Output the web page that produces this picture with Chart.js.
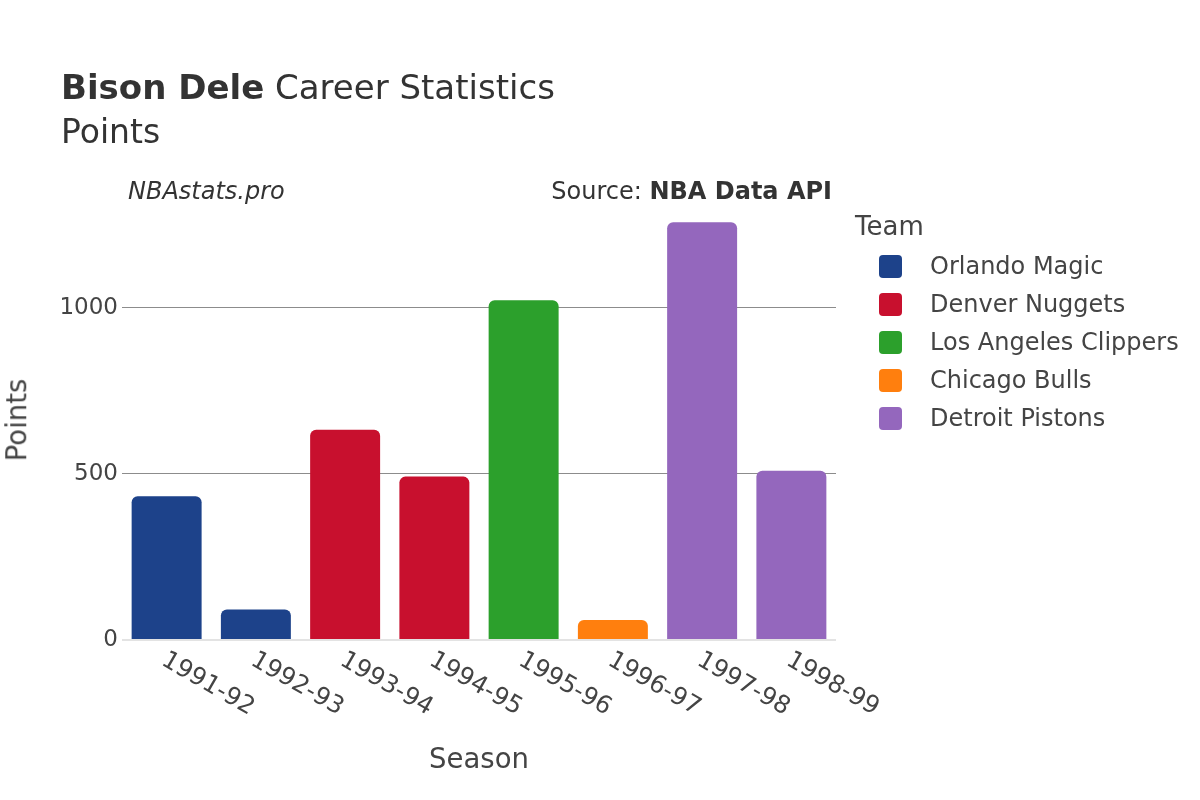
<!DOCTYPE html>
<html>
<head>
<meta charset="utf-8">
<script src="https://cdn.jsdelivr.net/npm/chart.js@4.4.1/dist/chart.umd.min.js"></script>
<style>
  html, body { margin: 0; padding: 0; background: #fff; }
  body { width: 1200px; height: 800px; position: relative; overflow: hidden; font-family: "DejaVu Sans", sans-serif; color: #444; }
  #wrap { position: absolute; left: 0; top: 0; width: 1200px; height: 800px; }
  .t { position: absolute; white-space: nowrap; }
  #title { left: 61px; top: 70px; font-size: 34px; line-height: 34px; color: #333; }
  #subtitle { left: 61px; top: 115px; font-size: 33px; line-height: 33px; color: #333; }
  #credit { left: 128px; top: 179px; font-size: 24px; line-height: 24px; font-style: italic; color: #333; }
  #source { right: 368px; top: 179px; font-size: 24px; line-height: 24px; color: #333; }
  #xtitle { left: 479px; top: 745px; font-size: 27.5px; line-height: 27.5px; transform: translateX(-50%); color: #444; }
  #ytitle { left: 17px; top: 420px; font-size: 27.5px; line-height: 27.5px; transform: translate(-50%, -50%) rotate(-90deg); color: #444; }
  #legend { position: absolute; left: 855px; top: 213px; }
  #legend .lt { font-size: 26px; line-height: 26px; color: #444; height: 34px; }
  #legend .row { display: flex; align-items: center; height: 38px; }
  #legend .sw { width: 23px; height: 23px; border-radius: 4px; margin-left: 24px; margin-right: 28px; }
  #legend .lbl { font-size: 24px; line-height: 24px; color: #444; }
</style>
</head>
<body>
<div id="wrap"><canvas id="c" width="1200" height="800"></canvas></div>
<div class="t" id="title"><b>Bison Dele</b> Career Statistics</div>
<div class="t" id="subtitle">Points</div>
<div class="t" id="credit">NBAstats.pro</div>
<div class="t" id="source">Source: <b>NBA Data API</b></div>
<div class="t" id="xtitle">Season</div>
<div class="t" id="ytitle">Points</div>
<div id="legend"><div class="lt">Team</div></div>
<script>
// ---- data ----
const seasons = ["1991-92", "1992-93", "1993-94", "1994-95", "1995-96", "1996-97", "1997-98", "1998-99"];
const points = [433, 92, 633, 492, 1023, 60, 1258, 510];
const seasonTeam = ["Orlando Magic", "Orlando Magic", "Denver Nuggets", "Denver Nuggets", "Los Angeles Clippers", "Chicago Bulls", "Detroit Pistons", "Detroit Pistons"];
const teams = ["Orlando Magic", "Denver Nuggets", "Los Angeles Clippers", "Chicago Bulls", "Detroit Pistons"];
const teamColors = ["#1d428a", "#c8102e", "#2ca02c", "#ff7f0e", "#9467bd"];
const yTicks = [0, 500, 1000];

// ---- legend (HTML) ----
const legend = document.getElementById('legend');
teams.forEach((t, i) => {
  const row = document.createElement('div');
  row.className = 'row';
  const sw = document.createElement('div');
  sw.className = 'sw';
  sw.style.background = teamColors[i];
  const lb = document.createElement('div');
  lb.className = 'lbl';
  lb.textContent = t;
  row.appendChild(sw); row.appendChild(lb);
  legend.appendChild(row);
});

// ---- datasets ----
const datasets = teams.map((t, i) => ({
  label: t,
  data: points.map((v, j) => seasonTeam[j] === t ? v : null),
  backgroundColor: teamColors[i],
  borderWidth: 0,
  borderRadius: 6,
  borderSkipped: 'start',
  grouped: false,
  barPercentage: 0.784,
  categoryPercentage: 1.0
}));

const xLabelPlugin = {
  id: 'xLabels',
  afterDraw(chart) {
    const ctx = chart.ctx;
    const xs = chart.scales.x;
    ctx.save();
    ctx.font = '24.5px "DejaVu Sans"';
    ctx.fillStyle = '#444';
    ctx.textAlign = 'left';
    ctx.textBaseline = 'top';
    seasons.forEach((s, i) => {
      const x = xs.getPixelForValue(i);
      ctx.save();
      ctx.translate(x + 3, 648);
      ctx.rotate(Math.PI / 6);
      ctx.fillText(s, 0, 0);
      ctx.restore();
    });
    ctx.restore();
  }
};

new Chart(document.getElementById('c'), {
  type: 'bar',
  data: { labels: seasons, datasets: datasets },
  options: {
    responsive: false,
    animation: false,
    devicePixelRatio: 1,
    layout: { padding: { left: 0, top: 200, right: 364, bottom: 0 } },
    plugins: { legend: { display: false }, tooltip: { enabled: false }, title: { display: false } },
    scales: {
      x: {
        grid: { display: false },
        border: { display: false },
        ticks: { display: false },
        afterFit(scale) { scale.height = 160; }
      },
      y: {
        min: 0,
        max: 1325,
        border: { display: false },
        afterBuildTicks(scale) { scale.ticks = yTicks.map(v => ({ value: v })); },
        afterFit(scale) { scale.width = 122; },
        grid: {
          drawTicks: false,
          color: (c) => c.tick && c.tick.value === 0 ? '#e3e3e3' : '#8c8c8c',
          lineWidth: (c) => c.tick && c.tick.value === 0 ? 2 : 1
        },
        ticks: {
          padding: 4,
          color: '#444',
          font: { family: 'DejaVu Sans', size: 23 },
          callback: (v) => String(v)
        }
      }
    }
  },
  plugins: [xLabelPlugin]
});
</script>
</body>
</html>
